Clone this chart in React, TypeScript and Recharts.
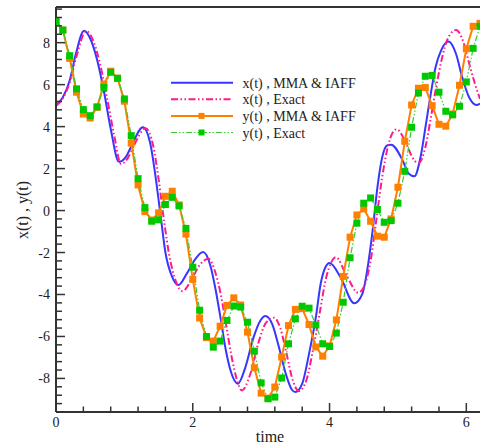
import { LineChart, Line, XAxis, YAxis, ReferenceLine } from "recharts";

// y(t) samples (markers), read every 0.1
const yTimes = [
  0, 0.1, 0.2, 0.3, 0.4, 0.5, 0.6, 0.7, 0.8, 0.9,
  1, 1.1, 1.2, 1.3, 1.4, 1.5, 1.6, 1.7, 1.8, 1.9,
  2, 2.1, 2.2, 2.3, 2.4, 2.5, 2.6, 2.7, 2.8, 2.9,
  3, 3.1, 3.2, 3.3, 3.4, 3.5, 3.6, 3.7, 3.8, 3.9,
  4, 4.1, 4.2, 4.3, 4.4, 4.5, 4.6, 4.7, 4.8, 4.9,
  5, 5.1, 5.2, 5.3, 5.4, 5.5, 5.6, 5.7, 5.8, 5.9,
  6, 6.1, 6.2,
];
const yMma = [
  9.0, 8.6, 7.25, 5.64, 4.6, 4.41, 4.92, 6.03, 6.64, 6.31,
  5.21, 3.21, 1.22, -0.05, -0.45, -0.11, 0.68, 0.92, 0.27, -1.12,
  -3.28, -5.12, -6.05, -6.22, -5.51, -4.52, -4.16, -4.5, -5.79, -7.49,
  -8.7, -8.94, -8.41, -6.98, -5.48, -4.71, -4.67, -5.43, -6.5, -6.94,
  -6.45, -5.21, -3.14, -1.27, -0.21, 0.08, -0.51, -1.22, -1.27, -0.4,
  1.11, 3.3, 5.03, 5.83, 5.86, 5.0, 4.11, 4.02, 4.6, 5.97,
  7.71, 8.78, 8.92,
];
const yExact = [
  9.0, 8.6, 7.38, 5.8, 4.81, 4.52, 4.94, 5.87, 6.59, 6.3,
  5.32, 3.57, 1.52, 0.14, -0.51, -0.44, 0.29, 0.63, 0.22, -0.85,
  -2.7, -4.75, -6.0, -6.51, -6.22, -5.24, -4.55, -4.6, -5.32, -6.7,
  -8.21, -8.97, -8.89, -7.98, -6.35, -5.16, -4.56, -4.65, -5.45, -6.35,
  -6.48, -5.84, -4.37, -2.25, -0.6, 0.35, 0.6, 0.05, -0.56, -0.48,
  0.35, 1.87, 3.97, 5.6, 6.4, 6.44, 5.64, 4.73, 4.56, 4.97,
  6.13, 7.73, 8.78,
];

// x(t) curves, points
const xMmaT = [
  0, 0.1, 0.2, 0.29, 0.41, 0.5, 0.6, 0.7, 0.8, 0.92, 1.02, 1.1, 1.27,
  1.38, 1.45, 1.53, 1.6, 1.7, 1.79, 1.91, 2.04, 2.15, 2.26, 2.33, 2.41,
  2.48, 2.55, 2.66, 2.77, 2.89, 2.99, 3.06, 3.16, 3.26, 3.36, 3.45, 3.5,
  3.6, 3.7, 3.8, 3.87, 3.94, 4.0, 4.16, 4.36, 4.48, 4.55, 4.63, 4.7,
  4.77, 4.84, 4.9, 5.07, 5.16, 5.24, 5.33, 5.41, 5.48, 5.55, 5.63, 5.74,
  5.85, 5.94, 6.04, 6.15, 6.2,
];
const xMmaV = [
  5.03, 5.4, 6.2, 7.46, 8.57, 8.2, 7.2, 5.7, 3.9, 2.33, 2.55, 3.05, 3.97,
  3.17, 1.75, -0.25, -2.0, -3.17, -3.55, -3.02, -2.3, -1.98, -2.65, -3.7, -5.2,
  -6.6, -7.6, -8.25, -7.46, -6.03, -5.24, -5.03, -5.4, -6.51, -7.78, -8.54, -8.65,
  -8.25, -6.83, -5.08, -3.49, -2.7, -2.5, -3.17, -4.42, -3.97, -2.86, -0.95, 1.11,
  2.54, 3.1, 3.14, 2.38, 1.75, 1.63, 2.54, 4.13, 5.56, 6.83, 7.62, 8.05,
  7.46, 6.35, 5.4, 5.03, 5.1,
];
const xExactT = [
  0, 0.1, 0.2, 0.3, 0.44, 0.55, 0.65, 0.75, 0.85, 0.95, 1.05, 1.14, 1.31,
  1.42, 1.5, 1.58, 1.66, 1.75, 1.85, 1.98, 2.1, 2.23, 2.33, 2.41, 2.49,
  2.57, 2.64, 2.72, 2.84, 2.96, 3.07, 3.19, 3.28, 3.37, 3.45, 3.55, 3.66,
  3.76, 3.86, 3.95, 4.02, 4.09, 4.25, 4.42, 4.53, 4.61, 4.69, 4.77, 4.85,
  4.92, 4.98, 5.12, 5.2, 5.3, 5.4, 5.48, 5.56, 5.64, 5.73, 5.85, 5.96,
  6.05, 6.13, 6.2,
];
const xExactV = [
  5.0, 5.35, 6.1, 7.35, 8.55, 8.05, 6.9, 5.3, 3.6, 2.22, 2.5, 3.1, 3.92,
  3.1, 1.5, -0.5, -2.2, -3.35, -3.84, -3.3, -2.6, -2.3, -2.95, -4.0, -5.5,
  -7.0, -8.0, -8.57, -7.8, -6.3, -5.35, -5.11, -5.6, -6.8, -7.95, -8.6, -8.1,
  -6.6, -4.8, -3.2, -2.5, -2.22, -3.1, -3.92, -3.4, -2.2, -0.3, 1.6, 3.0,
  3.7, 3.87, 3.2, 2.6, 2.25, 3.0, 4.4, 5.9, 7.2, 8.2, 8.6, 8.0,
  6.9, 6.0, 5.32,
];

const xTicks = [0, 0.4, 0.8, 1.2, 1.6, 2, 2.4, 2.8, 3.2, 3.6, 4, 4.4, 4.8, 5.2, 5.6, 6];
const yTicks = [
  -9.2, -8.8, -8.4, -8, -7.6, -7.2, -6.8, -6.4, -6, -5.6, -5.2, -4.8, -4.4, -4,
  -3.6, -3.2, -2.8, -2.4, -2, -1.6, -1.2, -0.8, -0.4, 0, 0.4, 0.8, 1.2, 1.6, 2,
  2.4, 2.8, 3.2, 3.6, 4, 4.4, 4.8, 5.2, 5.6, 6, 6.4, 6.8, 7.2, 7.6, 8, 8.4, 8.8,
  9.2, 9.6,
];

const legendNames = [
  "x(t) , MMA & IAFF",
  "x(t) , Exact",
  "y(t) , MMA & IAFF",
  "y(t) , Exact",
];

const FONT = '"Liberation Serif", "Times New Roman", serif';
const AXIS = "#333";
const BLUE = "#3636ff";
const PINK = "#ff1a8c";
const ORANGE = "#ff8000";
const GREEN = "#00c800";
const GREEN_LINE = "#33cc33";
const PINK_DASH = "7 2.5 1.5 2.5 1.5 2.5";
const GREEN_DASH = "6 2 1.5 2 1.5 2";

const pts = (ts: number[], vs: number[]) => ts.map((t, i) => ({ t, v: vs[i] }));

const isMajor = (v: number) => Math.abs(v / 2 - Math.round(v / 2)) < 1e-6;

function XTick(props: any) {
  const { x, y, payload } = props;
  const major = isMajor(payload.value);
  return (
    <g>
      <line x1={x} x2={x} y1={y} y2={y - (major ? 9 : 5.5)} stroke={AXIS} strokeWidth={1.5} />
      {major && (
        <text x={x} y={y + 15} textAnchor="middle" fontSize={14} fontFamily={FONT} fill="#222">
          {payload.value}
        </text>
      )}
    </g>
  );
}

function YTick(props: any) {
  const { x, y, payload } = props;
  const major = isMajor(payload.value);
  return (
    <g>
      <line x1={x} x2={x + (major ? 9 : 6)} y1={y} y2={y} stroke={AXIS} strokeWidth={1.5} />
      {major && (
        <text x={x - 6} y={y + 5} textAnchor="end" fontSize={14} fontFamily={FONT} fill="#222">
          {payload.value}
        </text>
      )}
    </g>
  );
}

const squareDot = (color: string) => (p: any) => (
  <rect key={`d-${p.index}`} x={p.cx - 3.5} y={p.cy - 3.5} width={7} height={7} fill={color} />
);

function LegendBox() {
  const rows = [
    { color: BLUE, width: 2, dash: undefined, marker: null },
    { color: PINK, width: 2, dash: PINK_DASH, marker: null },
    { color: ORANGE, width: 2, dash: undefined, marker: ORANGE },
    { color: GREEN_LINE, width: 1.2, dash: GREEN_DASH, marker: GREEN },
  ];
  return (
    <svg
      width={481}
      height={444}
      style={{ position: "absolute", left: 0, top: 0, pointerEvents: "none" }}
    >
      {rows.map((r, i) => {
        const y = 82.7 + i * 16.6;
        return (
          <g key={i}>
            <line x1={171} x2={233} y1={y} y2={y} stroke={r.color} strokeWidth={r.width} strokeDasharray={r.dash} />
            {r.marker && <rect x={198.5} y={y - 3} width={6} height={6} fill={r.marker} />}
            <text x={242.5} y={y + 5} fontSize={14} fontFamily={FONT} fill="#222">
              {legendNames[i]}
            </text>
          </g>
        );
      })}
      <text x={270} y={442} textAnchor="middle" fontSize={16} fontFamily={FONT} fill="#222">
        time
      </text>
      <text
        x={22}
        y={210}
        textAnchor="middle"
        dy="0.35em"
        fontSize={16}
        fontFamily={FONT}
        fill="#222"
        transform="rotate(-90 22 210)"
      >
        x(t) , y(t)
      </text>
    </svg>
  );
}

export default function App() {
  return (
    <div style={{ position: "absolute", left: 0, top: 0, width: 481, height: 444, background: "#fff" }}>
      <LineChart width={481} height={444} margin={{ top: 7, right: 1, bottom: 2, left: 7 }}>
        <XAxis
          dataKey="t"
          type="number"
          domain={[0, 6.2]}
          ticks={xTicks}
          interval={0}
          height={30}
          tickSize={0}
          tickMargin={0}
          tickLine={false}
          tick={XTick}
          axisLine={{ stroke: AXIS, strokeWidth: 2 }}
          allowDataOverflow
        />
        <YAxis
          type="number"
          domain={[-9.6, 9.7]}
          ticks={yTicks}
          interval={0}
          width={49}
          tickSize={0}
          tickMargin={0}
          tickLine={false}
          tick={YTick}
          axisLine={{ stroke: AXIS, strokeWidth: 2 }}
          allowDataOverflow
        />
        <ReferenceLine y={9.7} stroke={AXIS} strokeWidth={2} />
        <Line
          data={pts(xMmaT, xMmaV)}
          dataKey="v"
          type="monotone"
          stroke={BLUE}
          strokeWidth={2}
          dot={false}
          isAnimationActive={false}
        />
        <Line
          data={pts(xExactT, xExactV)}
          dataKey="v"
          type="monotone"
          stroke={PINK}
          strokeWidth={2}
          strokeDasharray={PINK_DASH}
          dot={false}
          isAnimationActive={false}
        />
        <Line
          data={pts(yTimes, yMma)}
          dataKey="v"
          type="linear"
          stroke={ORANGE}
          strokeWidth={2}
          dot={squareDot(ORANGE)}
          isAnimationActive={false}
        />
        <Line
          data={pts(yTimes, yExact)}
          dataKey="v"
          type="linear"
          stroke={GREEN_LINE}
          strokeWidth={1.2}
          strokeDasharray={GREEN_DASH}
          dot={squareDot(GREEN)}
          isAnimationActive={false}
        />
      </LineChart>
      <LegendBox />
    </div>
  );
}
